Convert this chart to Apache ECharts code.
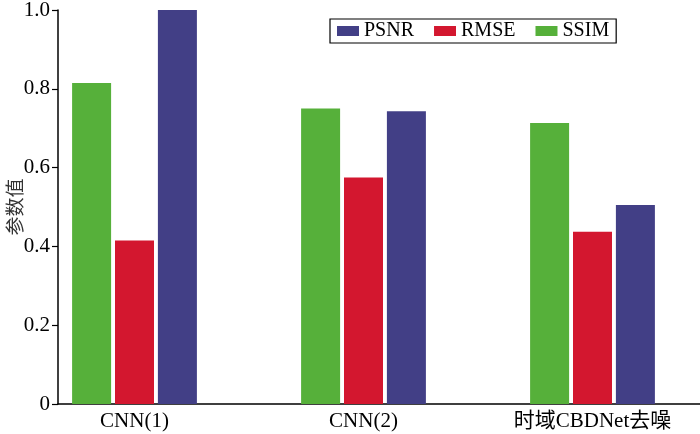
<!DOCTYPE html>
<html>
<head>
<meta charset="utf-8">
<script src="https://cdn.jsdelivr.net/npm/echarts@6/dist/echarts.min.js"></script>
<style>html,body{margin:0;padding:0;background:#fff;overflow:hidden}#c{width:707px;height:434px}</style>
</head>
<body>
<div id="c"></div>
<script>
var categories = ['CNN(1)', 'CNN(2)', '时域CBDNet去噪'];
var ssim = [0.815, 0.750, 0.713];
var rmse = [0.415, 0.575, 0.437];
var psnr = [1.000, 0.743, 0.505];

var serif = '"Liberation Serif", "Times New Roman", "Noto Sans CJK SC", serif';
var chart = echarts.init(document.getElementById('c'), null, { renderer: 'canvas' });
chart.setOption({
  animation: false,
  backgroundColor: '#fff',
  grid: [
    { left: 20, right: 0, top: 10, bottom: 30, containLabel: false, outerBoundsMode: 'none' },
    { left: 58, right: 7, top: 10, bottom: 30, containLabel: false, outerBoundsMode: 'none' }
  ],
  legend: {
    data: ['PSNR', 'RMSE', 'SSIM'],
    left: 330, top: 19,
    orient: 'horizontal',
    icon: 'rect',
    itemWidth: 22, itemHeight: 10, itemGap: 20,
    padding: [2, 7, 2, 7],
    borderColor: '#000', borderWidth: 1.2,
    textStyle: { fontFamily: serif, fontSize: 20, color: '#000' }
  },
  xAxis: [
    {
      gridIndex: 0, type: 'category', data: categories,
      axisLine: { show: false }, axisTick: { show: false }, splitLine: { show: false },
      axisLabel: { fontFamily: serif, fontSize: 21, color: '#000', margin: 7, interval: 0 }
    },
    {
      gridIndex: 1, type: 'value', min: 0, max: 1,
      axisLine: { show: true, onZero: false, lineStyle: { color: '#000', width: 1.5 } },
      axisTick: { show: false }, axisLabel: { show: false }, splitLine: { show: false }
    }
  ],
  yAxis: [
    {
      gridIndex: 0, type: 'value', min: 0, max: 1,
      axisLine: { show: false }, axisTick: { show: false }, axisLabel: { show: false }, splitLine: { show: false }
    },
    {
      gridIndex: 1, type: 'value', min: 0, max: 1, interval: 0.2,
      name: '参数值',
      nameLocation: 'middle', nameRotate: 90, nameGap: 34, nameMoveOverlap: false,
      nameTextStyle: { fontFamily: '"Noto Sans CJK SC", sans-serif', fontSize: 19, color: '#333' },
      splitLine: { show: false },
      axisLine: { show: true, onZero: false, lineStyle: { color: '#000', width: 1.5 } },
      axisTick: { show: true, inside: false, length: 6, lineStyle: { color: '#000', width: 1.2 } },
      axisLabel: {
        fontFamily: serif, fontSize: 21, color: '#000', margin: 8,
        formatter: function (v) { return v === 0 ? '0' : v.toFixed(1); }
      }
    }
  ],
  series: [
    { name: 'SSIM', type: 'bar', xAxisIndex: 0, yAxisIndex: 0, data: ssim, barWidth: 39, barGap: '10%', itemStyle: { color: '#56b03a' } },
    { name: 'RMSE', type: 'bar', xAxisIndex: 0, yAxisIndex: 0, data: rmse, barWidth: 39, barGap: '10%', itemStyle: { color: '#d3172f' } },
    { name: 'PSNR', type: 'bar', xAxisIndex: 0, yAxisIndex: 0, data: psnr, barWidth: 39, barGap: '10%', itemStyle: { color: '#423f86' } }
  ]
});
</script>
</body>
</html>
